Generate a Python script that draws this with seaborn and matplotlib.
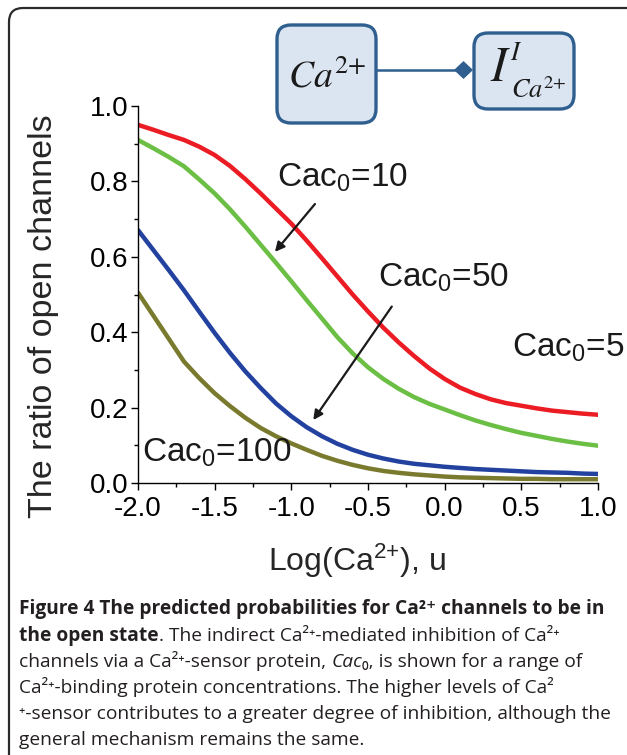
import numpy as np
import pandas as pd
import matplotlib
matplotlib.use('Agg')
import matplotlib.pyplot as plt
import seaborn as sns
from matplotlib.patches import FancyBboxPatch, Polygon
from matplotlib.ticker import MultipleLocator, AutoMinorLocator, FormatStrFormatter

# Data (step 0.1 on the log axis)
log_ca = [-2.0, -1.9, -1.8, -1.7, -1.6, -1.5, -1.4, -1.3, -1.2, -1.1, -1.0,
          -0.9, -0.8, -0.7, -0.6, -0.5, -0.4, -0.3, -0.2, -0.1, 0.0,
          0.1, 0.2, 0.3, 0.4, 0.5, 0.6, 0.7, 0.8, 0.9, 1.0]
cac_5 = [0.950, 0.937, 0.923, 0.910, 0.892, 0.870, 0.841, 0.806, 0.768, 0.728, 0.688,
         0.643, 0.596, 0.548, 0.500, 0.455, 0.412, 0.373, 0.337, 0.304, 0.276,
         0.253, 0.236, 0.222, 0.212, 0.205, 0.198, 0.192, 0.188, 0.184, 0.181]
cac_10 = [0.910, 0.888, 0.865, 0.840, 0.805, 0.768, 0.726, 0.680, 0.632, 0.584, 0.535,
          0.485, 0.436, 0.387, 0.344, 0.307, 0.276, 0.250, 0.228, 0.210, 0.195,
          0.180, 0.166, 0.154, 0.143, 0.133, 0.125, 0.117, 0.110, 0.104, 0.099]
cac_50 = [0.671, 0.618, 0.565, 0.511, 0.454, 0.398, 0.345, 0.296, 0.252, 0.211, 0.177,
          0.148, 0.124, 0.104, 0.088, 0.075, 0.065, 0.057, 0.051, 0.047, 0.043,
          0.040, 0.037, 0.035, 0.033, 0.031, 0.029, 0.028, 0.027, 0.025, 0.024]
cac_100 = [0.505, 0.444, 0.383, 0.322, 0.278, 0.238, 0.204, 0.173, 0.146, 0.124, 0.105,
           0.088, 0.072, 0.059, 0.048, 0.039, 0.032, 0.027, 0.023, 0.020, 0.017,
           0.015, 0.014, 0.013, 0.012, 0.011, 0.011, 0.010, 0.010, 0.010, 0.010]

series_names = ['Cac0=5', 'Cac0=10', 'Cac0=50', 'Cac0=100']
series_colors = ['#ec1c24', '#6cbf45', '#2342a0', '#7a7a2e']

df = pd.DataFrame({
    'x': log_ca * 4,
    'y': cac_5 + cac_10 + cac_50 + cac_100,
    'series': sum([[n] * len(log_ca) for n in series_names], []),
})

sns.set_style('ticks')
plt.rcParams['font.family'] = ['Liberation Sans', 'DejaVu Sans']
plt.rcParams['mathtext.fontset'] = 'custom'
plt.rcParams['mathtext.rm'] = 'Liberation Sans'
plt.rcParams['mathtext.it'] = 'Liberation Sans:italic'
plt.rcParams['axes.edgecolor'] = 'black'
plt.rcParams['xtick.color'] = 'black'
plt.rcParams['ytick.color'] = 'black'
plt.rcParams['text.color'] = '#1a1a1a'

W, H = 627, 755
fig = plt.figure(figsize=(W / 100, H / 100), dpi=100)

# overlay in pixel coordinates for the frame, diagram and caption
ov = fig.add_axes([0, 0, 1, 1])
ov.set_xlim(0, W)
ov.set_ylim(H, 0)
ov.axis('off')

ax = fig.add_axes([138 / W, 1 - 483 / H, 460 / W, 377 / H])
sns.lineplot(data=df, x='x', y='y', hue='series', hue_order=series_names,
             palette=series_colors, linewidth=3.2, legend=False, ax=ax)
ax.set_xlim(-2.0, 1.0)
ax.set_ylim(0.0, 1.0)
ax.xaxis.set_major_locator(MultipleLocator(0.5))
ax.yaxis.set_major_locator(MultipleLocator(0.2))
ax.xaxis.set_minor_locator(AutoMinorLocator(2))
ax.yaxis.set_minor_locator(AutoMinorLocator(2))
ax.xaxis.set_major_formatter(FormatStrFormatter('%.1f'))
ax.yaxis.set_major_formatter(FormatStrFormatter('%.1f'))
ax.tick_params(which='major', length=5, width=1, labelsize=20)
ax.tick_params(axis='x', which='major', pad=4.5)
ax.tick_params(axis='y', which='major', pad=2)
ax.tick_params(which='minor', length=3, width=1)
sns.despine(ax=ax)
for s in ['left', 'bottom']:
    ax.spines[s].set_linewidth(1)
ax.set_xlabel('Log(Ca$^{2{+}}$), u', fontsize=23)
ax.xaxis.set_label_coords(0.476, -0.155)
ax.set_ylabel('The ratio of open channels', fontsize=24.5)
ax.yaxis.set_label_coords(-0.172, 0.443)
ax.patch.set_alpha(0)

lab = dict(fontsize=24, color='#1a1a1a')
ax.text(-1.093, 0.786, 'Cac$_0$=10', **lab)
ax.text(-0.435, 0.521, 'Cac$_0$=50', **lab)
ax.text(0.437, 0.335, 'Cac$_0$=5', **lab)
ax.text(-1.976, 0.0565, 'Cac$_0$=100', **lab)
arr = dict(arrowstyle='-|>', lw=1.6, color='#1a1a1a', mutation_scale=14, shrinkA=0, shrinkB=0)
ax.annotate('', xy=(-1.107, 0.613), xytext=(-0.846, 0.740), arrowprops=arr)
ax.annotate('', xy=(-0.857, 0.167), xytext=(-0.345, 0.468), arrowprops=arr)

# outer frame
ov.add_patch(FancyBboxPatch((9, 8), 700, 800, boxstyle='round,pad=0,rounding_size=14',
                            fc='none', ec='#2b2b2b', lw=1.6))

# diagram at the top
box_fc, box_ec = '#dbe5f1', '#2f5f8f'
ov.add_patch(FancyBboxPatch((277, 25), 99, 98, boxstyle='round,pad=0,rounding_size=14',
                            fc=box_fc, ec=box_ec, lw=2.4))
ov.add_patch(FancyBboxPatch((474, 33), 100, 76, boxstyle='round,pad=0,rounding_size=14',
                            fc=box_fc, ec=box_ec, lw=2.4))
ov.plot([376, 458], [70, 70], color=box_ec, lw=1.8)
ov.add_patch(Polygon([[455, 70], [463.5, 62], [472, 70], [463.5, 78]], closed=True,
                     fc=box_ec, ec=box_ec))
ov.text(327, 87, '$Ca^{2{+}}$', fontsize=27, ha='center', va='baseline',
        math_fontfamily='stix', color='#1a1a1a')
ov.text(490, 81, '$I$', fontsize=35, ha='left', va='baseline',
        math_fontfamily='stix', color='#1a1a1a')
ov.text(510, 60, '$I$', fontsize=19, ha='left', va='baseline',
        math_fontfamily='stix', color='#1a1a1a')
ov.text(511, 98, '$Ca^{2{+}}$', fontsize=19, ha='left', va='baseline',
        math_fontfamily='stix', color='#1a1a1a')

# caption
cap = ['Open Sans', 'DejaVu Sans']
renderer = fig.canvas.get_renderer()


def put_line(x, y, pieces, size=13.75):
    for txt, weight, style in pieces:
        t = ov.text(x, y, txt, fontsize=size, fontweight=weight, fontstyle=style,
                    family=cap, va='baseline', ha='left', color='#231f20')
        bb = t.get_window_extent(renderer=renderer)
        x += bb.width


put_line(19, 614, [('Figure 4 The predicted probabilities for Ca²⁺ channels to be in', 'bold', 'normal')])
put_line(19, 641, [('the open state', 'bold', 'normal'),
                   ('. The indirect Ca²⁺-mediated inhibition of Ca²⁺', 'normal', 'normal')])
put_line(19, 667, [('channels via a Ca²⁺-sensor protein, ', 'normal', 'normal'),
                   ('Cac', 'normal', 'italic'),
                   ('₀, is shown for a range of', 'normal', 'normal')])
put_line(19, 693, [('Ca²⁺-binding protein concentrations. The higher levels of Ca²', 'normal', 'normal')])
put_line(19, 719, [('⁺-sensor contributes to a greater degree of inhibition, although the', 'normal', 'normal')])
put_line(19, 745, [('general mechanism remains the same.', 'normal', 'normal')])

fig.savefig('out.png', dpi=100)
